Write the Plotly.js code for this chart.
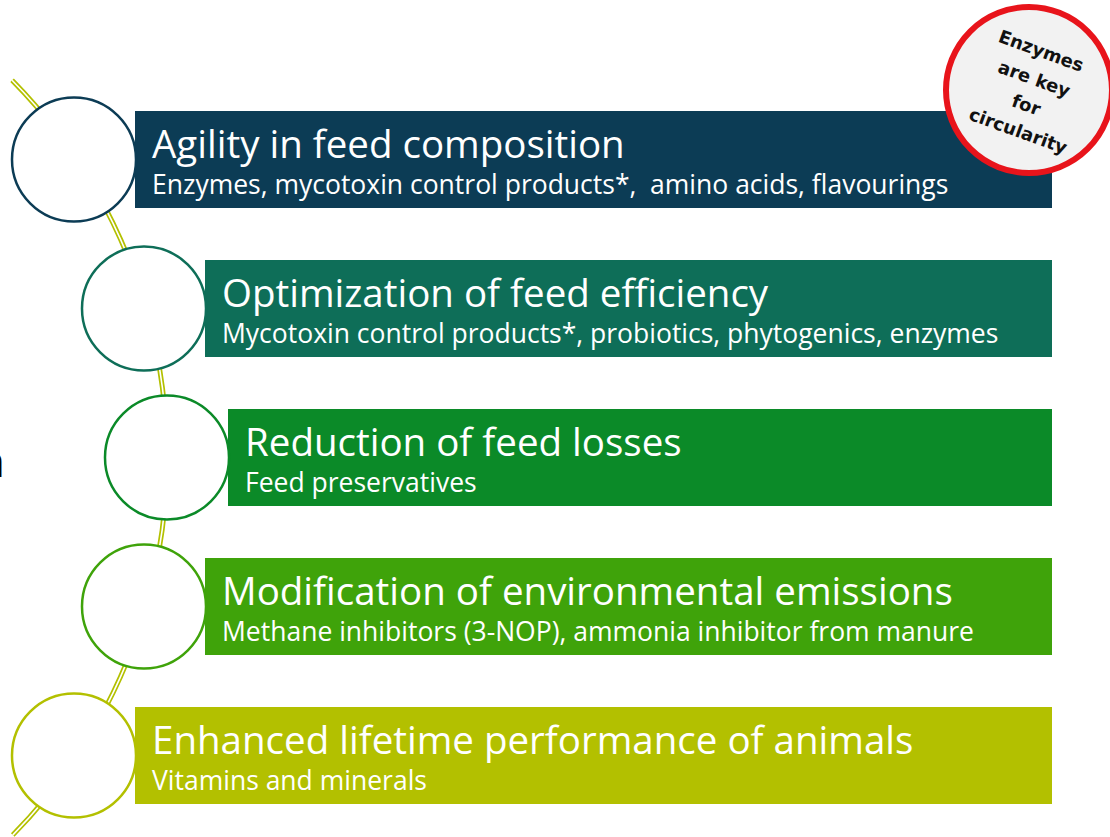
<!DOCTYPE html>
<html>
<head>
<meta charset="utf-8">
<script src="https://cdn.plot.ly/plotly-3.0.1.min.js"></script>
<style>
  html, body { margin: 0; padding: 0; background: #ffffff; }
  #chart { width: 1110px; height: 837px; }
</style>
</head>
<body>
<div id="chart"></div>
<script>
// ---- data ----
const categories = [
  "Agility in feed composition",
  "Optimization of feed efficiency",
  "Reduction of feed losses",
  "Modification of environmental emissions",
  "Enhanced lifetime performance of animals"
];
const details = [
  "Enzymes, mycotoxin control products*,  amino acids, flavourings",
  "Mycotoxin control products*, probiotics, phytogenics, enzymes",
  "Feed preservatives",
  "Methane inhibitors (3-NOP), ammonia inhibitor from manure",
  "Vitamins and minerals"
];
const barStart = [135, 205, 228, 205, 135];
const barEnd = [1052, 1052, 1052, 1052, 1052];
const badgeLines = ["Enzymes", "are key", "for", "circularity"];
const sideLetter = "n";

// ---- styling ----
const colors = ["#0c3c55", "#0e6e58", "#0b8a28", "#3fa30a", "#b3c000"];
const chainColor = "#b3c000";
const W = 1110, H = 837;
const rowPx = 149, firstRowPx = 159.5;
const idx = py => (py - firstRowPx) / rowPx;          // pixel -> category index
const circleR = 62;
const FONT = "'Open Sans', Lato, sans-serif";

const barTrace = {
  type: "bar",
  orientation: "h",
  y: categories,
  x: barEnd.map((e, i) => e - barStart[i]),
  base: barStart,
  width: 97 / rowPx,
  marker: { color: colors, line: { width: 0 } },
  hoverinfo: "skip",
  showlegend: false
};

// chain arc (double line) built as cubic bezier segments
function arcPath(cx, cy, R, a0, a1, n) {
  const step = (a1 - a0) / n;
  const k = 4 / 3 * Math.tan(step / 4);
  const P = (x, y) => x.toFixed(2) + "," + idx(y).toFixed(4);
  let d = "M" + P(cx + R * Math.cos(a0), cy + R * Math.sin(a0));
  for (let i = 0; i < n; i++) {
    const a = a0 + i * step, b = a + step;
    const x0 = cx + R * Math.cos(a), y0 = cy + R * Math.sin(a);
    const x3 = cx + R * Math.cos(b), y3 = cy + R * Math.sin(b);
    const x1 = x0 - k * R * Math.sin(a), y1 = y0 + k * R * Math.cos(a);
    const x2 = x3 + k * R * Math.sin(b), y2 = y3 - k * R * Math.cos(b);
    d += " C" + P(x1, y1) + " " + P(x2, y2) + " " + P(x3, y3);
  }
  return d;
}
const deg = Math.PI / 180;
const chain = arcPath(-371, 458, 538, -44.6 * deg, 44.5 * deg, 6);

const shapes = [
  { type: "path", xref: "x", yref: "y", path: chain, layer: "above",
    line: { color: chainColor, width: 5 } },
  { type: "path", xref: "x", yref: "y", path: chain, layer: "above",
    line: { color: "#ffffff", width: 1.6 } }
];
categories.forEach((c, i) => {
  const cx = barStart[i] - circleR + 1;
  shapes.push({
    type: "circle", xref: "x", yref: "y", layer: "above",
    x0: cx - circleR, x1: cx + circleR,
    y0: i - circleR / rowPx, y1: i + circleR / rowPx,
    fillcolor: "#ffffff", line: { color: colors[i], width: 2.5 }
  });
});
// badge
const bx = 1029, by = 90, br = 83;
shapes.push({
  type: "circle", xref: "x", yref: "y", layer: "above",
  x0: bx - br, x1: bx + br, y0: idx(by - br), y1: idx(by + br),
  fillcolor: "#f2f2f2", line: { color: "#e8141b", width: 6 }
});

const annotations = [];
categories.forEach((c, i) => {
  annotations.push({
    xref: "x", yref: "y", x: barStart[i] + 15, y: i, yshift: 17,
    xanchor: "left", yanchor: "middle", showarrow: false,
    text: c, font: { family: FONT, size: 38.5, color: "#ffffff" }
  });
  annotations.push({
    xref: "x", yref: "y", x: barStart[i] + 15, y: i, yshift: -24,
    xanchor: "left", yanchor: "middle", showarrow: false,
    text: details[i], font: { family: FONT, size: 26.5, color: "#ffffff" }
  });
});
const badgePos = [[1041, 50], [1034, 78], [1026, 104], [1018, 130]];
badgeLines.forEach((t, i) => {
  annotations.push({
    xref: "x", yref: "y", x: badgePos[i][0], y: idx(badgePos[i][1]),
    xanchor: "center", yanchor: "middle", showarrow: false, textangle: 20,
    text: "<b>" + t + "</b>",
    font: { family: "'DejaVu Sans', sans-serif", size: 18, color: "#111111" }
  });
});
annotations.push({
  xref: "x", yref: "y", x: 7, y: idx(460), xanchor: "right", yanchor: "middle",
  showarrow: false, text: sideLetter,
  font: { family: FONT, size: 44, color: "#000000" }
});

const layout = {
  width: W, height: H,
  margin: { l: 0, r: 0, t: 0, b: 0, pad: 0 },
  paper_bgcolor: "#ffffff", plot_bgcolor: "#ffffff",
  xaxis: { range: [0, W], visible: false, fixedrange: true },
  yaxis: {
    type: "category", categoryarray: categories, categoryorder: "array",
    range: [idx(H), idx(0)], visible: false, fixedrange: true
  },
  shapes: shapes,
  annotations: annotations,
  showlegend: false
};

Plotly.newPlot("chart", [barTrace], layout, { displayModeBar: false, staticPlot: true });
</script>
</body>
</html>
